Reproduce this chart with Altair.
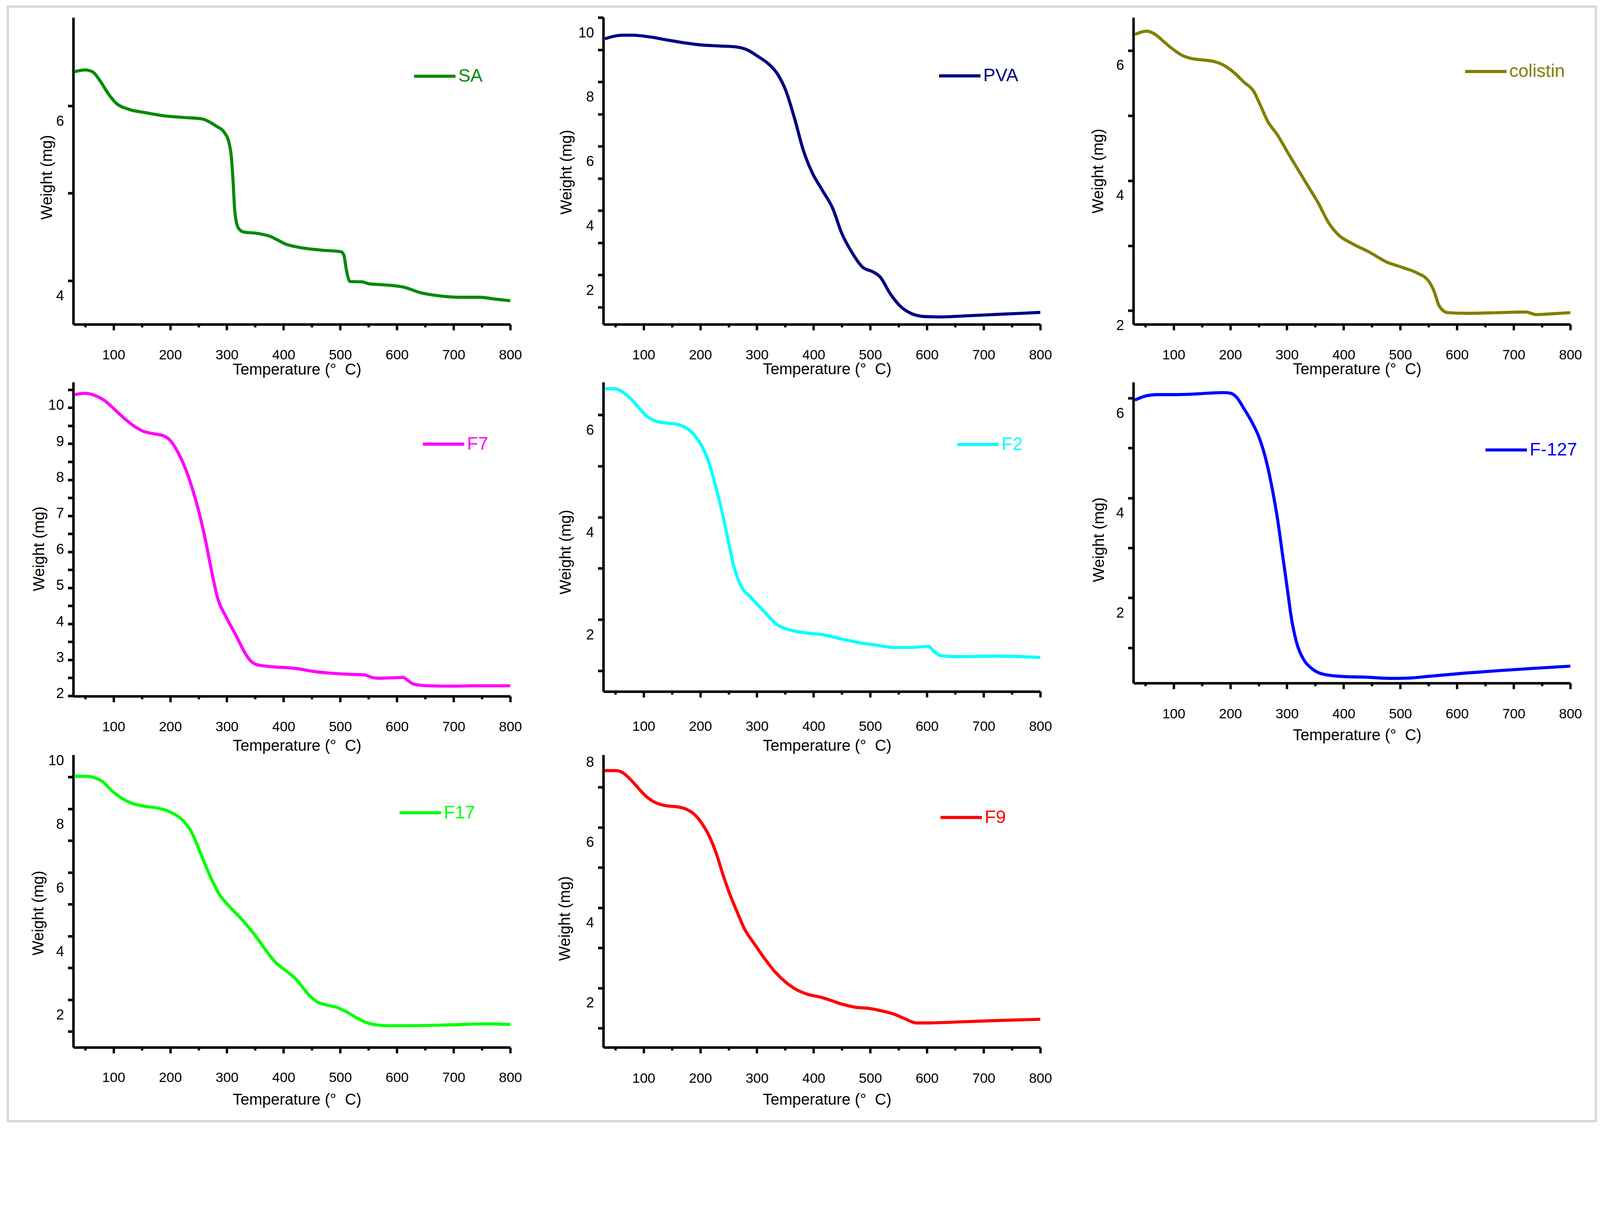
import altair as alt
import pandas as pd

# --- TGA curves: temperature (deg C) / weight (mg) ---
sa_t = [30.6, 50, 62.5, 77.9, 90, 105.5, 127, 157.7, 188.4, 225, 256, 268, 280.5, 296, 304, 308, 311, 314,
        320.4, 329.6, 354, 378.8, 391, 403, 428, 464.7, 501.6, 506.5, 510.8, 517, 538.4, 550.7, 575, 612,
        642.8, 673.5, 710, 747, 771.7, 800]
sa_w = [6.39, 6.41, 6.39, 6.27, 6.145, 6.025, 5.96, 5.92, 5.886, 5.866, 5.85, 5.82, 5.77, 5.69, 5.57, 5.41,
        5.13, 4.79, 4.6, 4.557, 4.54, 4.50, 4.46, 4.42, 4.38, 4.35, 4.33, 4.29, 4.125, 3.99, 3.986, 3.964,
        3.953, 3.925, 3.86, 3.827, 3.81, 3.81, 3.79, 3.77]

pva_t = [31.8, 62.5, 81, 111.7, 142.4, 173, 203.8, 234.5, 262, 283.6, 302, 320.4, 335.8, 351, 366.5, 381.8,
         397, 415.6, 434, 449.4, 467.8, 486.2, 504.6, 517, 535.3, 553.8, 572, 596.8, 621.3, 664.3, 725.7, 800]
pva_w = [9.34, 9.45, 9.45, 9.395, 9.30, 9.21, 9.145, 9.115, 9.09, 8.99, 8.79, 8.56, 8.26, 7.73, 6.86, 5.88,
         5.20, 4.63, 4.06, 3.31, 2.70, 2.25, 2.10, 1.95, 1.42, 1.02, 0.81, 0.71, 0.70, 0.73, 0.78, 0.84]

col_t = [31.6, 52.6, 67.6, 82.6, 97.6, 115.6, 133.6, 151.6, 172.6, 187.6, 205.6, 223.6, 241.6, 253.6, 265.6,
         283.6, 301.6, 319.6, 337.6, 355.6, 373.6, 391.6, 415.6, 445.5, 475.5, 505.5, 529.5, 550.5, 559.5,
         568.5, 583.5, 613.5, 673.5, 721.5, 739.5, 763.5, 800]
col_w = [6.25, 6.30, 6.25, 6.14, 6.03, 5.925, 5.876, 5.857, 5.83, 5.78, 5.67, 5.52, 5.37, 5.15, 4.92, 4.70,
         4.43, 4.17, 3.91, 3.65, 3.35, 3.16, 3.03, 2.90, 2.75, 2.66, 2.58, 2.45, 2.30, 2.075, 1.97, 1.96,
         1.97, 1.98, 1.94, 1.95, 1.97]

f7_t = [31.8, 50.3, 68.7, 84, 99.4, 117.8, 136.2, 151.6, 170, 188.4, 200.7, 213, 225.3, 237.5, 249.8, 262,
        271.3, 283.6, 299, 317.4, 332.8, 342, 354.2, 378.8, 421.7, 452.4, 483, 513.9, 544.6, 550.7, 566,
        587.5, 612, 618.2, 630.5, 655, 698, 741, 800]
f7_w = [9.865, 9.90, 9.83, 9.70, 9.49, 9.22, 8.99, 8.85, 8.78, 8.72, 8.58, 8.28, 7.87, 7.33, 6.66, 5.84,
        5.10, 4.22, 3.68, 3.14, 2.67, 2.47, 2.36, 2.31, 2.26, 2.18, 2.13, 2.10, 2.08, 2.04, 1.99, 2.00,
        2.01, 1.94, 1.82, 1.78, 1.77, 1.78, 1.78]

f2_t = [31.8, 50.3, 62.5, 77.9, 93.2, 105.5, 124, 142.4, 160.8, 176.1, 188.4, 200.7, 213, 222.2, 231.4,
        240.6, 249.8, 259, 271.3, 289.7, 314.3, 335.8, 357.3, 388, 418.7, 449.4, 480, 510.8, 541.5, 572.2,
        602.9, 612.1, 624.4, 652, 725.7, 800]
f2_w = [6.51, 6.51, 6.45, 6.31, 6.12, 5.976, 5.87, 5.84, 5.81, 5.74, 5.62, 5.43, 5.14, 4.81, 4.43, 4.0,
        3.52, 3.05, 2.67, 2.43, 2.14, 1.90, 1.80, 1.738, 1.70, 1.62, 1.55, 1.50, 1.457, 1.457, 1.476, 1.38,
        1.295, 1.276, 1.286, 1.26]

f127_t = [31.6, 49.6, 70.6, 103.6, 133.6, 163.6, 187.6, 199.6, 211.6, 223.6, 238.6, 250.6, 262.6, 274.6,
          283.6, 292.6, 300.4, 307.6, 316.6, 328.6, 343.6, 367.5, 403.5, 439.5, 481.5, 511.5, 553.5, 613.5,
          673.5, 733.5, 800]
f127_w = [5.96, 6.04, 6.07, 6.07, 6.08, 6.10, 6.11, 6.10, 6.01, 5.80, 5.51, 5.22, 4.78, 4.15, 3.56, 2.83,
          2.20, 1.61, 1.12, 0.78, 0.585, 0.46, 0.42, 0.41, 0.385, 0.39, 0.43, 0.49, 0.54, 0.585, 0.63]

f17_t = [30.6, 53.3, 65.6, 81, 96.3, 114.7, 133.2, 151.6, 176.1, 194.6, 213, 225.3, 237.5, 249.8, 262.1,
         274.4, 286.7, 305.1, 329.6, 354.2, 372.6, 384.9, 403.3, 421.7, 434, 446.3, 458.6, 477, 495.4,
         507.7, 526.1, 544.6, 563, 587.5, 636.7, 698, 759.5, 800]
f17_w = [10.02, 10.02, 9.985, 9.85, 9.58, 9.33, 9.17, 9.09, 9.03, 8.94, 8.77, 8.58, 8.27, 7.77, 7.23, 6.73,
         6.31, 5.92, 5.46, 4.92, 4.46, 4.19, 3.92, 3.65, 3.38, 3.12, 2.94, 2.83, 2.75, 2.65, 2.46, 2.29,
         2.21, 2.18, 2.185, 2.21, 2.24, 2.22]

f9_t = [31.8, 50.3, 62.5, 77.9, 93.2, 105.5, 120.9, 139.3, 160.8, 176.1, 191.5, 203.8, 216, 228.3, 240.6,
        252.9, 265.2, 277.5, 295.9, 314.3, 332.7, 351.1, 369.6, 388, 412.5, 431, 449.4, 474, 498.5, 516.9,
        541.5, 559.9, 581.4, 602.9, 664.3, 725.7, 800]
f9_w = [8.415, 8.415, 8.37, 8.18, 7.94, 7.76, 7.62, 7.54, 7.51, 7.45, 7.30, 7.08, 6.78, 6.35, 5.80, 5.31,
        4.89, 4.49, 4.09, 3.72, 3.39, 3.14, 2.96, 2.85, 2.77, 2.69, 2.60, 2.52, 2.49, 2.44, 2.35, 2.24,
        2.13, 2.13, 2.16, 2.19, 2.22]

x_ticks = list(range(50, 801, 50))

FONT = "Liberation Sans, Arial, sans-serif"
NARROW = "Liberation Sans Narrow, Arial Narrow, Liberation Sans, sans-serif"
PLOT_W = 1202
LEG = 114  # legend line length


def panel(name, color, t, w, ydom, yticks, ylabels, loff, height, ytd, xtd, xld, leg_x, leg_y,
          ytitle_y, border=False):
    df = pd.DataFrame({"T": t, "W": w, "name": name})
    lab_list = ",".join(str(v) for v in ylabels)
    line = alt.Chart(df).mark_line(strokeWidth=8.5, interpolate="monotone").encode(
        x=alt.X("T:Q", scale=alt.Scale(domain=[29, 800], nice=False, zero=False),
                axis=alt.Axis(values=x_ticks, grid=False,
                              labelExpr="datum.value % 100 === 0 ? format(datum.value, 'd') : ''",
                              tickSize={"condition": {"test": "datum.value % 100 === 0", "value": 16},
                                        "value": 8},
                              tickWidth=6.5, tickColor="black", domainColor="black", domainWidth=7,
                              labelFont=NARROW, labelFontSize=38, labelColor="black",
                              labelBaseline="middle", labelPadding=xld - 16,
                              labelFlush=False, labelOverlap=False, labelBound=False,
                              title="Temperature (°\u00a0 C)", titleFont=FONT, titleFontSize=43,
                              titleFontWeight="normal", titleColor="black",
                              titleX=PLOT_W / 2 + 14, titleY=xtd, titleAlign="center",
                              titleBaseline="middle")),
        y=alt.Y("W:Q", scale=alt.Scale(domain=ydom, nice=False, zero=False),
                axis=alt.Axis(values=yticks, grid=False,
                              labelExpr=f"indexof([{lab_list}], datum.value) >= 0 ? format(datum.value, 'd') : ''",
                              tickSize=15, tickWidth=7, tickColor="black", domainColor="black",
                              domainWidth=7, labelFont=NARROW, labelFontSize=39, labelColor="black",
                              labelPadding=11, labelOffset=loff, labelFlush=False, labelOverlap=False,
                              labelBound=False,
                              title="Weight (mg)", titleFont=FONT, titleFontSize=43,
                              titleFontWeight="normal", titleColor="black",
                              titleX=-ytd, titleY=ytitle_y, titleAlign="center",
                              titleBaseline="middle")),
        color=alt.Color("name:N", scale=alt.Scale(range=[color]),
                        legend=alt.Legend(orient="none", legendX=leg_x, legendY=leg_y - LEG / 2,
                                          title=None, symbolType="stroke", symbolSize=LEG * LEG,
                                          symbolStrokeWidth=8.5, labelFont=FONT, labelFontSize=50,
                                          labelColor=color, labelOffset=3, padding=0)),
    ).properties(width=PLOT_W, height=height)

    if not border:
        return line
    # light grey frame around the whole figure
    frame = alt.Chart(pd.DataFrame({"a": [0]})).mark_rect(
        filled=False, stroke="#d6d6d6", strokeWidth=6, clip=False
    ).encode(x=alt.value(-180), x2=alt.value(4188), y=alt.value(-30), y2=alt.value(3036))
    return alt.layer(frame, line)


def spacer(h):
    return alt.Chart(pd.DataFrame({"a": [0]})).mark_point(opacity=0).properties(width=PLOT_W, height=h)


sa = panel("SA", "#008a00", sa_t, sa_w, [3.5, 7.01], [4, 5, 6], [4, 6], 42, 844, 72, 125, 85, 933, 157,
           439, border=True)
pva = panel("PVA", "#000080", pva_t, pva_w, [0.47, 10.0], list(range(1, 11)), [2, 4, 6, 8, 10], 42, 844,
            101, 124, 85, 919, 156, 425)
colistin = panel("colistin", "#808000", col_t, col_w, [1.79, 6.51], [2, 3, 4, 5, 6], [2, 4, 6], 41, 844,
                 97, 124, 85, 908, 144, 422)
f7 = panel("F7", "#FF00FF", f7_t, f7_w, [1.49, 10.21], [v / 2 for v in range(3, 21)],
           [2, 3, 4, 5, 6, 7, 8, 9, 10], 43, 864, 94, 137, 85, 957, 166, 458)
f2 = panel("F2", "#00FFFF", f2_t, f2_w, [0.595, 6.64], [1, 2, 3, 4, 5, 6], [2, 4, 6], 42, 851, 103, 150,
           97, 969, 167, 467)
f127 = panel("F-127", "#0000FF", f127_t, f127_w, [0.29, 6.32], [1, 2, 3, 4, 5, 6], [2, 4, 6], 42, 828, 94,
             143, 85, 964, 182, 433)
f17 = panel("F17", "#00FF00", f17_t, f17_w, [1.5, 10.7], list(range(2, 11)), [2, 4, 6, 8, 10], -45, 805,
            96, 144, 84, 893, 155, 435)
f9 = panel("F9", "#FF0000", f9_t, f9_w, [1.52, 8.81], list(range(2, 9)), [2, 4, 6, 8], -69, 805, 105, 144,
           86, 923, 168, 450)

# 3-column grid; spacer rows set the vertical gaps between panel rows
cells = [
    sa, pva, colistin,
    spacer(159), spacer(159), spacer(159),
    f7, f2, f127,
    spacer(161), spacer(161), spacer(161),
    f17, f9,
]

chart = alt.concat(*cells, columns=3, spacing={"row": 0, "column": 256}, bounds="flush").resolve_scale(
    color="independent").resolve_legend(color="independent").properties(
    padding={"left": 10, "top": -104, "right": 0, "bottom": 0}, background="white"
).configure_view(stroke=None)

chart.save("out.html", embed_options={"renderer": "svg", "actions": False})
